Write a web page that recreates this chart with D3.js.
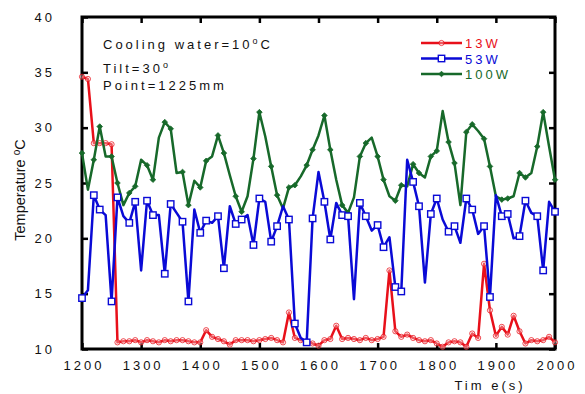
<!DOCTYPE html>
<html>
<head>
<meta charset="utf-8">
<script src="https://cdn.jsdelivr.net/npm/d3@7"></script>
<style>
    body { margin: 0; background: #fff; }
    svg text { font-family: "Liberation Sans", Arial, sans-serif; fill: #111; }
</style>
</head>
<body>
<div id="chart"></div>
<script>
// sample times (s)
const times = [1200,1210,1220,1230,1240,1250,1260,1270,1280,1290,
    1300,1310,1320,1330,1340,1350,1360,1370,1380,1390,
    1400,1410,1420,1430,1440,1450,1460,1470,1480,1490,
    1500,1510,1520,1530,1540,1550,1560,1570,1580,1590,
    1600,1610,1620,1630,1640,1650,1660,1670,1680,1690,
    1700,1710,1720,1730,1740,1750,1760,1770,1780,1790,
    1800,1810,1820,1830,1840,1850,1860,1870,1880,1890,
    1900,1910,1920,1930,1940,1950,1960,1970,1980,1990,
    2000];

// temperature readings (oC)
const temp13W = [34.6,34.4,28.6,28.6,28.6,28.5,10.6,10.7,10.7,10.8,
    10.6,10.8,10.7,10.6,10.8,10.7,10.8,10.8,10.7,10.6,
    10.6,11.7,11.1,10.9,10.7,10.4,10.8,10.8,10.8,10.7,
    10.8,10.9,11.0,10.8,10.6,13.3,11.0,10.8,10.7,10.5,
    10.3,10.8,10.9,12.1,10.9,11.0,10.9,10.8,11.0,10.8,
    10.9,11.1,17.1,11.6,11.1,11.3,11.0,10.8,10.7,10.8,
    10.5,10.2,10.6,10.7,10.6,10.2,11.4,11.0,17.7,13.5,
    11.2,12.0,11.3,13.0,11.6,10.5,10.8,10.7,10.8,11.1,
    10.6];

const temp53W = [14.6,15.3,23.9,22.6,22.1,14.3,23.7,22.0,21.4,23.3,
    17.1,23.4,22.1,22.1,16.8,23.1,22.3,21.5,14.3,22.6,
    20.5,21.6,21.4,22.0,17.3,22.9,21.3,21.7,22.1,19.4,
    23.6,23.3,19.7,21.1,22.9,21.7,12.3,11.0,10.6,21.8,
    26.0,23.3,19.9,23.2,22.1,22.0,14.5,23.2,22.0,20.7,
    21.2,19.2,20.1,15.6,15.2,27.1,25.1,22.9,16.0,22.2,
    23.6,21.7,20.6,21.1,19.6,23.6,22.6,20.4,21.1,14.7,
    23.9,22.0,22.2,20.0,20.2,23.4,22.3,22.0,17.1,23.3,
    22.4];

const temp100W = [27.7,24.4,27.1,30.1,27.4,27.4,25.0,23.0,24.1,24.7,
    27.1,26.6,25.3,29.1,30.5,29.9,25.9,26.0,23.0,25.2,
    24.6,27.0,27.4,29.3,27.7,25.7,23.8,22.4,23.8,27.2,
    31.4,29.2,26.5,23.9,22.7,24.6,24.8,25.6,26.6,28.0,
    29.3,31.1,28.0,25.3,23.0,22.3,23.7,27.4,28.6,29.1,
    27.4,25.3,23.8,23.4,24.8,24.7,26.7,25.9,25.5,27.4,
    27.9,31.5,28.7,26.8,23.0,29.6,30.3,29.7,29.0,26.5,
    23.8,23.5,23.6,23.8,25.9,25.5,25.9,28.3,31.4,28.3,
    25.3];

const xTicks = [1200,1300,1400,1500,1600,1700,1800,1900,2000];
const yTicks = [10,15,20,25,30,35,40];

const series = [
    { name: "13W", values: temp13W, color: "#e8101a", marker: "circle" },
    { name: "100W", values: temp100W, color: "#17692a", marker: "diamond" },
    { name: "53W", values: temp53W, color: "#0a0ad6", marker: "square" }
];
const legendOrder = ["13W", "53W", "100W"];

const W = 585, H = 394;
const margin = { top: 17, right: 30, bottom: 45, left: 82 };
const width = W - margin.left - margin.right;
const height = H - margin.top - margin.bottom;

const svg = d3.select("#chart").append("svg")
    .attr("width", W)
    .attr("height", H);

const g = svg.append("g")
    .attr("transform", `translate(${margin.left},${margin.top})`);

const x = d3.scaleLinear().domain([1200, 2000]).range([0, width]);
const y = d3.scaleLinear().domain([10, 40]).range([height, 0]);

// axes with inward ticks
const axisStyle = sel => {
    sel.select(".domain").remove();
    sel.selectAll(".tick line").attr("stroke", "#000").attr("stroke-width", 2.5);
    sel.selectAll(".tick text")
        .style("font-size", "13px")
        .style("letter-spacing", "3px")
        .attr("fill", "#111");
};

g.append("g")
    .attr("transform", `translate(0,${height})`)
    .call(d3.axisBottom(x).tickValues(xTicks).tickSize(-6).tickPadding(12).tickFormat(d3.format("d")))
    .call(axisStyle)
    .call(s => s.selectAll(".tick text").attr("dx", "1.5px"));

g.append("g")
    .call(d3.axisTop(x).tickValues(xTicks).tickSize(-6).tickFormat(""))
    .call(axisStyle);

g.append("g")
    .call(d3.axisLeft(y).tickValues(yTicks).tickSize(-6).tickPadding(27))
    .call(axisStyle);

g.append("g")
    .attr("transform", `translate(${width},0)`)
    .call(d3.axisRight(y).tickValues(yTicks).tickSize(-6).tickFormat(""))
    .call(axisStyle);

// frame
g.append("rect")
    .attr("width", width)
    .attr("height", height)
    .attr("fill", "none")
    .attr("stroke", "#000")
    .attr("stroke-width", 3);

const line = d3.line()
    .x((d, i) => x(times[i]))
    .y(d => y(d));

function drawMarker(sel, type, color) {
    if (type === "circle") {
        sel.append("circle").attr("r", 2.6)
            .attr("fill", "#fff").attr("fill-opacity", 0.3)
            .attr("stroke", color).attr("stroke-opacity", 0.75).attr("stroke-width", 1);
    } else if (type === "square") {
        sel.append("rect").attr("x", -3.2).attr("y", -3.2)
            .attr("width", 6.4).attr("height", 6.4)
            .attr("fill", "#fff").attr("stroke", color).attr("stroke-width", 1.4);
    } else {
        sel.append("path").attr("d", "M0,-2.8L2.8,0L0,2.8L-2.8,0Z")
            .attr("fill", color).attr("stroke", color).attr("stroke-width", 0.8);
    }
}

series.forEach(s => {
    g.append("path")
        .datum(s.values)
        .attr("fill", "none")
        .attr("stroke", s.color)
        .attr("stroke-width", 2.5)
        .attr("stroke-linejoin", "round")
        .attr("d", line);

    const pts = s.values
        .map((v, i) => ({ t: times[i], v: v, i: i }))
        .filter(d => s.marker === "circle" || d.i % 3 !== 1);

    g.append("g").selectAll("g")
        .data(pts)
        .enter().append("g")
        .attr("transform", d => `translate(${x(d.t)},${y(d.v)})`)
        .each(function () { drawMarker(d3.select(this), s.marker, s.color); });
});

// notes in the plot
const notes = svg.append("g")
    .style("font-size", "13px")
    .style("letter-spacing", "3px");

const n1 = notes.append("text").attr("x", 103).attr("y", 49);
n1.append("tspan").text("Cooling water=10");
n1.append("tspan").attr("dy", -5).style("font-size", "9px").text("o");
n1.append("tspan").attr("dy", 5).text("C");

const n2 = notes.append("text").attr("x", 103).attr("y", 73);
n2.append("tspan").text("Tilt=30");
n2.append("tspan").attr("dy", -5).style("font-size", "9px").text("o");

notes.append("text").attr("x", 103).attr("y", 90).text("Point=1225mm");

// legend
const legend = svg.append("g").attr("transform", "translate(421,43)");
legendOrder.forEach((name, k) => {
    const s = series.find(d => d.name === name);
    const row = legend.append("g").attr("transform", `translate(0,${k * 15.5})`);
    row.append("line")
        .attr("x1", 0).attr("x2", 41)
        .attr("stroke", s.color).attr("stroke-width", 2.5);
    drawMarker(row.append("g").attr("transform", "translate(20.5,0)"), s.marker, s.color);
    row.append("text")
        .attr("x", 44).attr("y", 5)
        .style("font-size", "13px")
        .style("letter-spacing", "3px")
        .style("fill", s.color)
        .text(s.name);
});

// axis titles
svg.append("text")
    .attr("x", 490).attr("y", 390)
    .attr("text-anchor", "middle")
    .style("font-size", "13px")
    .style("letter-spacing", "3px")
    .text("Tim e(s)");

const yt = svg.append("text")
    .attr("transform", "translate(25,190) rotate(-90)")
    .attr("text-anchor", "middle")
    .style("font-size", "14.5px");
yt.append("tspan").text("Temperature  ");
yt.append("tspan").attr("dy", -5).style("font-size", "10px").text("o");
yt.append("tspan").attr("dy", 5).text("C");
</script>
</body>
</html>
